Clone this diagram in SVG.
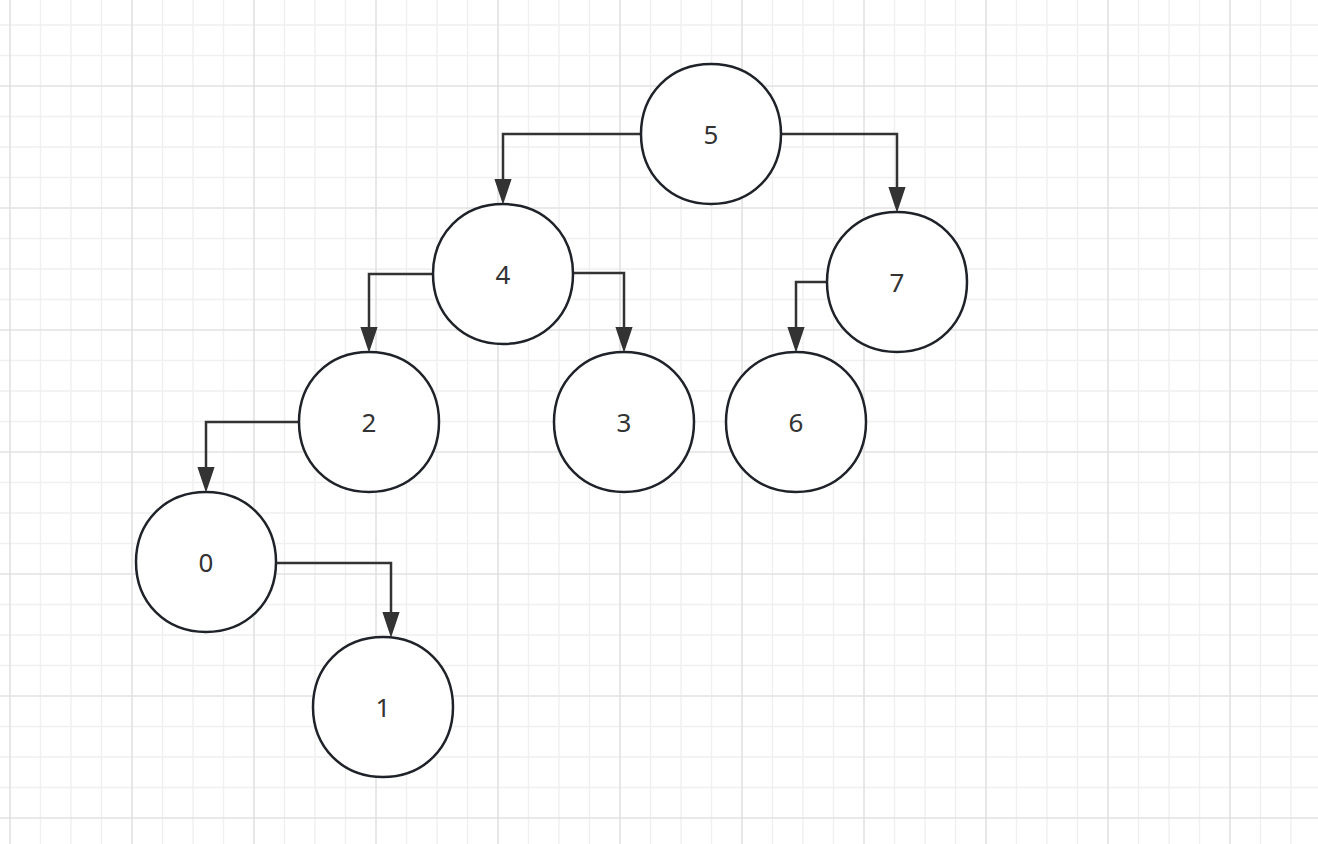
<svg xmlns="http://www.w3.org/2000/svg" width="1318" height="844" viewBox="0 0 1318 844">
  <style>
    .minor { stroke: #f0f0f0; stroke-width: 1.4; fill: none; }
    .major { stroke: #e2e2e2; stroke-width: 1.6; fill: none; }
    .node { fill: #ffffff; stroke: #1f2329; stroke-width: 2.5; }
    .label { font-family: "Noto Sans", "Open Sans", sans-serif; font-size: 26px; fill: #333333; text-anchor: middle; dominant-baseline: central; }
    .edge { fill: none; stroke: #333333; stroke-width: 2.5; marker-end: url(#arrow); }
  </style>
  <defs>
    <marker id="arrow" markerUnits="userSpaceOnUse" markerWidth="26" markerHeight="18" refX="14" refY="8" orient="auto" viewBox="0 0 24 16">
      <path d="M0 0 L24 8 L0 16 Z" fill="#333333"/>
    </marker>
    <path id="blob" d="M-70 0C-70 -40.5 -40.5 -70 0 -70C40.5 -70 70 -40.5 70 0C70 40.5 40.5 70 0 70C-40.5 70 -70 40.5 -70 0Z"/>
  </defs>
  <rect width="1318" height="844" fill="#ffffff"/>
  <g id="grid">
    <path class="minor" d="M40.5 0V844M71 0V844M101.5 0V844M162.5 0V844M193 0V844M223.5 0V844M284.5 0V844M315 0V844M345.5 0V844M406.5 0V844M437 0V844M467.5 0V844M528.5 0V844M559 0V844M589.5 0V844M650.5 0V844M681 0V844M711.5 0V844M772.5 0V844M803 0V844M833.5 0V844M894.5 0V844M925 0V844M955.5 0V844M1016.5 0V844M1047 0V844M1077.5 0V844M1138.5 0V844M1169 0V844M1199.5 0V844M1260.5 0V844M1291 0V844"/>
    <path class="minor" d="M0 25H1318M0 55.5H1318M0 116.5H1318M0 147H1318M0 177.5H1318M0 238.5H1318M0 269H1318M0 299.5H1318M0 360.5H1318M0 391H1318M0 421.5H1318M0 482.5H1318M0 513H1318M0 543.5H1318M0 604.5H1318M0 635H1318M0 665.5H1318M0 726.5H1318M0 757H1318M0 787.5H1318"/>
    <path class="major" d="M10 0V844M132 0V844M254 0V844M376 0V844M498 0V844M620 0V844M742 0V844M864 0V844M986 0V844M1108 0V844M1230 0V844"/>
    <path class="major" d="M0 86H1318M0 208H1318M0 330H1318M0 452H1318M0 574H1318M0 696H1318M0 818H1318"/>
  </g>
  <g id="connectors">
    <path id="e5-4" class="edge" d="M641 134H503V194"/>
    <path id="e5-7" class="edge" d="M781 134H897V202"/>
    <path id="e4-2" class="edge" d="M433 274H369V342"/>
    <path id="e4-3" class="edge" d="M573 273H624V342"/>
    <path id="e7-6" class="edge" d="M827 282H796V342"/>
    <path id="e2-0" class="edge" d="M299 422H206V482"/>
    <path id="e0-1" class="edge" d="M276 563H391V627"/>
  </g>
  <g id="node-5"><use href="#blob" class="node" x="711" y="134"/><text class="label" x="711" y="134">5</text></g>
  <g id="node-4"><use href="#blob" class="node" x="503" y="274"/><text class="label" x="503" y="274">4</text></g>
  <g id="node-7"><use href="#blob" class="node" x="897" y="282"/><text class="label" x="897" y="282">7</text></g>
  <g id="node-2"><use href="#blob" class="node" x="369" y="422"/><text class="label" x="369" y="422">2</text></g>
  <g id="node-3"><use href="#blob" class="node" x="624" y="422"/><text class="label" x="624" y="422">3</text></g>
  <g id="node-6"><use href="#blob" class="node" x="796" y="422"/><text class="label" x="796" y="422">6</text></g>
  <g id="node-0"><use href="#blob" class="node" x="206" y="562"/><text class="label" x="206" y="562">0</text></g>
  <g id="node-1"><use href="#blob" class="node" x="383" y="707"/><text class="label" x="383" y="707">1</text></g>
</svg>
